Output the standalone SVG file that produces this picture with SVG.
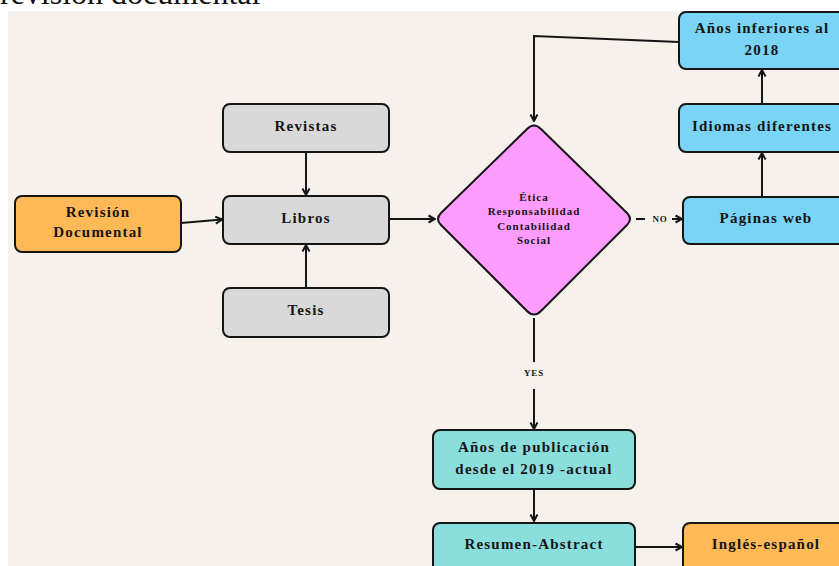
<svg xmlns="http://www.w3.org/2000/svg" width="839" height="566" viewBox="0 0 839 566">
<style>
.bg{fill:#f6f2eb}
.box{stroke:#151515;stroke-width:2}
.gray{fill:#d9d9d9}
.orange{fill:#ffba57}
.blue{fill:#7ad4f5}
.teal{fill:#8adedc}
.pink{fill:#ff9cff}
.t{font-family:"Liberation Serif","Times New Roman",serif;font-weight:bold;font-size:15px;fill:#151515;text-anchor:middle;letter-spacing:1.2px}
.d{font-size:11px;letter-spacing:1px}
.lbl{font-size:9px;letter-spacing:0.8px}
.title{font-family:"Liberation Serif","Times New Roman",serif;font-size:32px;fill:#111}
.c{fill:none;stroke:#151515;stroke-width:2}
</style>
<defs>
<marker id="ah" viewBox="0 0 10 10" refX="9" refY="5" markerWidth="10" markerHeight="10" markerUnits="userSpaceOnUse" orient="auto">
<path d="M2.5,1.5 L9,5 L2.5,8.5" fill="none" stroke="#151515" stroke-width="2"/>
</marker>
</defs>
<rect width="839" height="566" fill="#ffffff"/>
<text class="title" x="0" y="4">revisión documental</text>
<rect class="bg" x="8" y="11" width="831" height="555"/>

<g id="connectors">
<line class="c" x1="181" y1="223" x2="222" y2="219.5" marker-end="url(#ah)"/>
<line class="c" x1="306" y1="152" x2="306" y2="195" marker-end="url(#ah)"/>
<line class="c" x1="306" y1="288" x2="306" y2="245" marker-end="url(#ah)"/>
<line class="c" x1="389" y1="219" x2="435" y2="219" marker-end="url(#ah)"/>
<line class="c" x1="636" y1="219" x2="645" y2="219"/>
<text class="t lbl" x="660" y="222">NO</text>
<line class="c" x1="672" y1="219" x2="682" y2="219" marker-end="url(#ah)"/>
<line class="c" x1="762" y1="197" x2="762" y2="153" marker-end="url(#ah)"/>
<line class="c" x1="762" y1="104" x2="762" y2="70" marker-end="url(#ah)"/>
<polyline class="c" points="679,42 534,36 534,121" marker-end="url(#ah)"/>
<line class="c" x1="534" y1="318" x2="534" y2="362"/>
<text class="t lbl" x="534" y="376">YES</text>
<line class="c" x1="534" y1="389" x2="534" y2="429" marker-end="url(#ah)"/>
<line class="c" x1="534" y1="489" x2="534" y2="521" marker-end="url(#ah)"/>
<line class="c" x1="635" y1="547" x2="682" y2="547" marker-end="url(#ah)"/>
</g>

<g id="revision">
<rect class="box orange" x="15" y="196" width="166" height="56" rx="7"/>
<text class="t" x="98" y="217">Revisión</text>
<text class="t" x="98" y="237">Documental</text>
</g>
<g id="revistas">
<rect class="box gray" x="223" y="104" width="166" height="48" rx="7"/>
<text class="t" x="306" y="131">Revistas</text>
</g>
<g id="libros">
<rect class="box gray" x="223" y="196" width="166" height="48" rx="7"/>
<text class="t" x="306" y="223">Libros</text>
</g>
<g id="tesis">
<rect class="box gray" x="223" y="288" width="166" height="49" rx="7"/>
<text class="t" x="306" y="315">Tesis</text>
</g>
<g id="decision">
<path class="box pink" d="M527,129 Q534,122 541,129 L627,213 Q633,219 627,225 L541,311 Q534,318 527,311 L441,225 Q435,219 441,213 Z"/>
<text class="t d" x="534" y="200.5">Ética</text>
<text class="t d" x="534" y="215">Responsabilidad</text>
<text class="t d" x="534" y="229.5">Contabilidad</text>
<text class="t d" x="534" y="244">Social</text>
</g>
<g id="paginas">
<rect class="box blue" x="683" y="197" width="166" height="47" rx="7"/>
<text class="t" x="766" y="223">Páginas web</text>
</g>
<g id="idiomas">
<rect class="box blue" x="679" y="104" width="166" height="48" rx="7"/>
<text class="t" x="762" y="131">Idiomas diferentes</text>
</g>
<g id="anosinf">
<rect class="box blue" x="679" y="12" width="166" height="57" rx="7"/>
<text class="t" x="762" y="33">Años inferiores al</text>
<text class="t" x="762" y="55">2018</text>
</g>
<g id="anospub">
<rect class="box teal" x="433" y="430" width="202" height="59" rx="7"/>
<text class="t" x="534" y="452">Años de publicación</text>
<text class="t" x="534" y="474">desde el 2019 -actual</text>
</g>
<g id="resumen">
<rect class="box teal" x="433" y="523" width="202" height="50" rx="7"/>
<text class="t" x="534" y="549">Resumen-Abstract</text>
</g>
<g id="ingles">
<rect class="box orange" x="683" y="523" width="166" height="50" rx="7"/>
<text class="t" x="766" y="549">Inglés-español</text>
</g>
</svg>
